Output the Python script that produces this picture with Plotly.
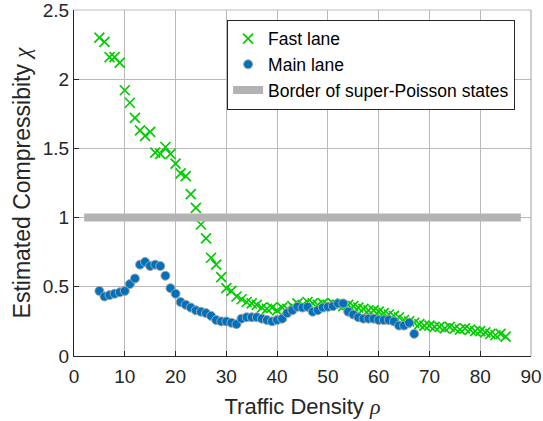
import plotly.graph_objects as go

# ---------------- data ----------------
fast_x = list(range(5, 86))
fast_y = [2.30, 2.27, 2.16, 2.16, 2.12, 1.92, 1.83, 1.72, 1.63, 1.59,
          1.62, 1.47, 1.46, 1.51, 1.46, 1.39, 1.32, 1.30, 1.17, 1.07,
          0.95, 0.85, 0.71, 0.66, 0.57, 0.49, 0.47, 0.43, 0.41, 0.39,
          0.38, 0.37, 0.35, 0.34, 0.35, 0.33, 0.35, 0.34, 0.36, 0.38,
          0.37, 0.39, 0.38, 0.37, 0.38, 0.37, 0.38, 0.37, 0.36, 0.37,
          0.36, 0.35, 0.34, 0.33, 0.33, 0.32, 0.31, 0.30, 0.29, 0.28,
          0.26, 0.25, 0.24, 0.23, 0.22, 0.22, 0.21, 0.21, 0.20, 0.21,
          0.20, 0.19, 0.20, 0.19, 0.18, 0.18, 0.17, 0.16, 0.15, 0.16,
          0.14]

main_x = list(range(5, 68))
main_y = [0.47, 0.43, 0.44, 0.45, 0.46, 0.47, 0.52, 0.56, 0.66, 0.68,
          0.65, 0.66, 0.65, 0.58, 0.49, 0.45, 0.39, 0.37, 0.35, 0.33,
          0.32, 0.31, 0.29, 0.26, 0.25, 0.25, 0.24, 0.23, 0.27, 0.28,
          0.28, 0.28, 0.27, 0.26, 0.25, 0.26, 0.27, 0.31, 0.33, 0.355,
          0.35, 0.355, 0.32, 0.33, 0.35, 0.355, 0.36, 0.38, 0.38, 0.32,
          0.30, 0.28, 0.27, 0.27, 0.27, 0.26, 0.26, 0.26, 0.25, 0.22,
          0.22, 0.24, 0.16]

border_x = [2, 88]
border_y = [1, 1]

x_ticks = [0, 10, 20, 30, 40, 50, 60, 70, 80, 90]
y_ticks = [0, 0.5, 1, 1.5, 2, 2.5]
y_tick_labels = ["0", "0.5", "1", "1.5", "2", "2.5"]

# ---------------- figure ----------------
FONT = "Liberation Sans, Arial, sans-serif"
DARK = "#262626"
GRID = "#b9b9b9"
SERIF = "font-family:'Liberation Serif'"

fig = go.Figure()
fig.add_trace(go.Scatter(
    x=fast_x, y=fast_y, mode="markers", name="Fast lane",
    marker=dict(symbol="x-thin-open", size=10, color="#00cc00",
                line=dict(color="#00cc00", width=1.7)),
))
fig.add_trace(go.Scatter(
    x=main_x, y=main_y, mode="markers", name="Main lane",
    marker=dict(symbol="circle", size=9, color="#0072bd",
                line=dict(color="#a6a6a6", width=1)),
))
fig.add_trace(go.Scatter(
    x=border_x, y=border_y, mode="lines", name="Border of super-Poisson states",
    line=dict(color="#b3b3b3", width=8),
))

fig.update_layout(
    width=543, height=421,
    margin=dict(l=74, r=12, t=10, b=65, autoexpand=False),
    paper_bgcolor="white", plot_bgcolor="white",
    font=dict(family=FONT, color=DARK, size=19),
    showlegend=True,
    legend=dict(
        x=0.335, y=0.972, xanchor="left", yanchor="top",
        bgcolor="white", bordercolor=DARK, borderwidth=1,
        font=dict(family=FONT, size=17.5, color="black"),
        tracegroupgap=0, itemwidth=30,
    ),
    xaxis=dict(
        range=[0, 90], tickvals=x_ticks, ticktext=[str(v) for v in x_ticks],
        automargin=False, ticklabeloverflow="allow", ticklabelstandoff=3,
        showgrid=True, gridcolor=GRID, gridwidth=1,
        showline=True, linecolor=DARK, linewidth=1,
        ticks="inside", ticklen=5, tickcolor=DARK,
        tickfont=dict(size=19, color=DARK), zeroline=False,
        title=dict(text=f"Traffic Density <span style=\"{SERIF}\"><i>ρ</i></span>",
                   font=dict(size=22, color=DARK), standoff=12),
    ),
    yaxis=dict(
        range=[0, 2.5], tickvals=y_ticks, ticktext=y_tick_labels,
        automargin=False, ticklabeloverflow="allow",
        showgrid=True, gridcolor=GRID, gridwidth=1,
        showline=True, linecolor=DARK, linewidth=1,
        ticks="inside", ticklen=5, tickcolor=DARK,
        tickfont=dict(size=19, color=DARK), zeroline=False,
        title=dict(text=f"Estimated Compressibity <span style=\"{SERIF}\"><i>χ</i></span>",
                   font=dict(size=23, color=DARK), standoff=5),
    ),
    shapes=[
        dict(type="line", xref="paper", yref="paper", x0=0, x1=1, y0=1, y1=1,
             line=dict(color="#bdbdbd", width=1)),
        dict(type="line", xref="paper", yref="paper", x0=1, x1=1, y0=0, y1=1,
             line=dict(color="#a0a0a0", width=1)),
    ],
)

fig.write_html(
    "out.html",
    config={"displayModeBar": False},
    post_script="document.body.style.margin='0';document.body.style.padding='0';",
)
